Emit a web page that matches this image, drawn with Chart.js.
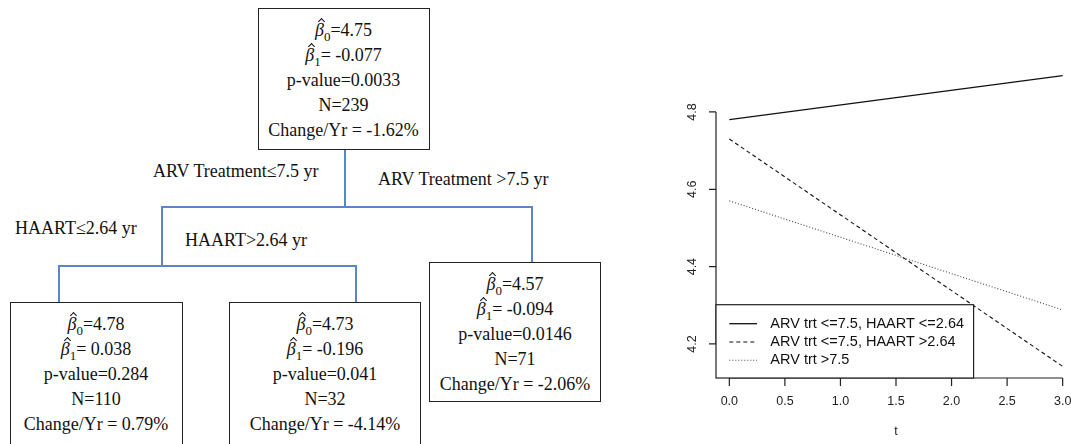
<!DOCTYPE html>
<html>
<head>
<meta charset="utf-8">
<script src="https://cdn.jsdelivr.net/npm/chart.js@4/dist/chart.umd.min.js"></script>
<style>
  body { margin: 0; width: 1073px; height: 444px; overflow: hidden; background: #fff; position: relative; }
  .node { position: absolute; box-sizing: border-box; border: 1.5px solid #222; background: #fff;
          font: 18px "Liberation Serif", "Times New Roman", serif; color: #111; text-align: center;
          line-height: 25px; padding-top: 9px; }
  .lbl { position: absolute; font: 18px "Liberation Serif", "Times New Roman", serif; color: #111;
         line-height: 20px; white-space: nowrap; }
  .b { position: relative; display: inline-block; font-style: italic; }
  .hat { position: absolute; left: 4px; top: 1px; width: 4px; height: 4px;
         border-top: 1.2px solid #111; border-left: 1.2px solid #111; transform: rotate(45deg); }
  .sub { position: relative; top: 5px; font-size: 13px; line-height: 0; }
  .wire { position: absolute; background: #5a85c8; }
</style>
</head>
<body>
<div id="tree"></div>
<canvas id="growthChart" width="450" height="444"></canvas>

<script>
// values
const tValues = [0, 3];
const arvLowHaartLow = [4.78, 4.894];
const arvLowHaartHigh = [4.73, 4.142];
const arvHigh = [4.57, 4.288];
const seriesLabels = ['ARV trt <=7.5, HAART <=2.64', 'ARV trt <=7.5, HAART >2.64', 'ARV trt >7.5'];
const xTicks = [0, 0.5, 1, 1.5, 2, 2.5, 3];
const yTicks = [4.2, 4.4, 4.6, 4.8];

// tree nodes: b0, b1, p-value, N, change/yr
const nodeB0 = ['4.75', '4.78', '4.73', '4.57'];
const nodeB1 = [' -0.077', ' 0.038', ' -0.196', ' -0.094'];
const nodeP = ['0.0033', '0.284', '0.041', '0.0146'];
const nodeN = ['239', '110', '32', '71'];
const nodeChange = ['Change/Yr = -1.62%', 'Change/Yr = 0.79%', 'Change/Yr = -4.14%', 'Change/Yr = -2.06%'];
const splitLabels = ['ARV Treatment\u22647.5 yr', 'ARV Treatment >7.5 yr', 'HAART\u22642.64 yr', 'HAART>2.64 yr'];

// layout of the tree (px)
const nodeBoxes = [
  { left: 257.5, top: 8, width: 172, height: 142 },
  { left: 9.5, top: 301.5, width: 173, height: 144 },
  { left: 229, top: 301.5, width: 192, height: 144 },
  { left: 429, top: 261.5, width: 172, height: 140 }
];
const labelPos = [
  { left: 153, top: 161 }, { left: 378, top: 169 }, { left: 15, top: 218 }, { left: 185, top: 230 }
];
const wires = [
  [345, 150, 345, 207], [162, 207, 532, 207], [532, 207, 532, 262],
  [162, 207, 162, 266], [59, 266, 356, 266], [59, 266, 59, 302], [356, 266, 356, 302]
];

const tree = document.getElementById('tree');
wires.forEach(w => {
  const d = document.createElement('div');
  d.className = 'wire';
  const lw = 1.6;
  d.style.left = (Math.min(w[0], w[2]) - lw / 2) + 'px';
  d.style.top = (Math.min(w[1], w[3]) - lw / 2) + 'px';
  d.style.width = (Math.abs(w[2] - w[0]) + lw) + 'px';
  d.style.height = (Math.abs(w[3] - w[1]) + lw) + 'px';
  tree.appendChild(d);
});
nodeBoxes.forEach((bx, i) => {
  const d = document.createElement('div');
  d.className = 'node';
  Object.assign(d.style, { left: bx.left + 'px', top: bx.top + 'px', width: bx.width + 'px', height: bx.height + 'px' });
  const beta = k => '<span class="b">\u03b2<span class="hat"></span></span><span class="sub">' + k + '</span>';
  d.innerHTML =
    '<div>' + beta(0) + '=' + nodeB0[i] + '</div>' +
    '<div>' + beta(1) + '=' + nodeB1[i] + '</div>' +
    '<div>p-value=' + nodeP[i] + '</div>' +
    '<div>N=' + nodeN[i] + '</div>' +
    '<div>' + nodeChange[i] + '</div>';
  tree.appendChild(d);
});
splitLabels.forEach((txt, i) => {
  const d = document.createElement('div');
  d.className = 'lbl';
  d.textContent = txt;
  d.style.left = labelPos[i].left + 'px';
  d.style.top = labelPos[i].top + 'px';
  tree.appendChild(d);
});

// R-style axes + legend
const rAxes = {
  id: 'rAxes',
  afterDatasetsDraw(chart) {
    const ctx = chart.ctx;
    const xs = chart.scales.x, ys = chart.scales.y;
    const area = chart.chartArea;
    ctx.save();
    ctx.strokeStyle = '#222';
    ctx.fillStyle = '#222';
    ctx.lineWidth = 1.2;
    ctx.font = '12.5px "Liberation Sans", Arial, sans-serif';

    // x axis
    ctx.beginPath();
    ctx.moveTo(xs.getPixelForValue(xTicks[0]), area.bottom);
    ctx.lineTo(xs.getPixelForValue(xTicks[xTicks.length - 1]), area.bottom);
    xTicks.forEach(v => {
      const px = xs.getPixelForValue(v);
      ctx.moveTo(px, area.bottom);
      ctx.lineTo(px, area.bottom + 8);
    });
    ctx.stroke();
    ctx.textAlign = 'center';
    ctx.textBaseline = 'middle';
    xTicks.forEach(v => ctx.fillText(v.toFixed(1), xs.getPixelForValue(v), area.bottom + 24));
    ctx.fillText('t', xs.getPixelForValue(1.5), area.bottom + 54);

    // y axis
    ctx.beginPath();
    ctx.moveTo(area.left, ys.getPixelForValue(yTicks[0]));
    ctx.lineTo(area.left, ys.getPixelForValue(yTicks[yTicks.length - 1]));
    yTicks.forEach(v => {
      const py = ys.getPixelForValue(v);
      ctx.moveTo(area.left, py);
      ctx.lineTo(area.left - 7, py);
    });
    ctx.stroke();
    yTicks.forEach(v => {
      ctx.save();
      ctx.translate(area.left - 23, ys.getPixelForValue(v));
      ctx.rotate(-Math.PI / 2);
      ctx.fillText(v.toFixed(1), 0, 0);
      ctx.restore();
    });

    // legend box, bottom-left of plot region
    const lx = area.left, lw = 257.6, lh = 73.3;
    const ly = area.bottom - lh;
    ctx.fillStyle = '#fff';
    ctx.fillRect(lx, ly, lw, lh);
    ctx.strokeStyle = '#222';
    ctx.strokeRect(lx, ly, lw, lh);
    ctx.font = '14.5px "Liberation Sans", Arial, sans-serif';
    ctx.textAlign = 'left';
    chart.data.datasets.forEach((ds, i) => {
      const ry = ly + 19 + i * 18.3;
      ctx.save();
      ctx.strokeStyle = ds.borderColor;
      ctx.lineWidth = ds.borderWidth;
      ctx.setLineDash(ds.borderDash || []);
      ctx.beginPath();
      ctx.moveTo(lx + 13.3, ry);
      ctx.lineTo(lx + 41, ry);
      ctx.stroke();
      ctx.restore();
      ctx.fillStyle = '#111';
      ctx.fillText(ds.label, lx + 54.3, ry);
    });
    ctx.restore();
  }
};

const toPoints = arr => arr.map((y, i) => ({ x: tValues[i], y: y }));

const ctx = document.getElementById('growthChart');
ctx.style.position = 'absolute';
ctx.style.left = '640px';
ctx.style.top = '0px';

let growthChart = new Chart(ctx, {
  type: 'line',
  data: {
    datasets: [
      { label: seriesLabels[0], data: toPoints(arvLowHaartLow), borderColor: '#111', borderWidth: 1.3, borderDash: [], pointRadius: 0 },
      { label: seriesLabels[1], data: toPoints(arvLowHaartHigh), borderColor: '#111', borderWidth: 1.1, borderDash: [4, 3], pointRadius: 0 },
      { label: seriesLabels[2], data: toPoints(arvHigh), borderColor: '#444', borderWidth: 1.1, borderDash: [1, 2], pointRadius: 0 }
    ]
  },
  options: {
    responsive: false,
    animation: false,
    layout: { padding: { left: 76, right: 14, top: 64, bottom: 66 } },
    plugins: { legend: { display: false }, tooltip: { enabled: false } },
    scales: {
      x: { type: 'linear', min: -0.12, max: 3.12, display: false },
      y: { type: 'linear', min: 4.112, max: 4.924, display: false }
    }
  },
  plugins: [rAxes]
});
</script>
</body>
</html>
